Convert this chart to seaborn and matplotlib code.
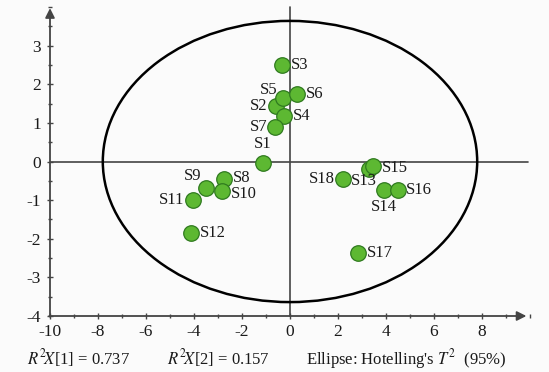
import numpy as np
import pandas as pd
import matplotlib
matplotlib.use("Agg")
import matplotlib.pyplot as plt
from matplotlib.patches import Ellipse
from matplotlib.ticker import MultipleLocator
import seaborn as sns

# ---- data ----
samples = ["S1", "S2", "S3", "S4", "S5", "S6", "S7", "S8", "S9", "S10",
           "S11", "S12", "S13", "S14", "S15", "S16", "S17", "S18"]
t1 = [-1.14, -0.60, -0.35, -0.25, -0.28, 0.28, -0.62, -2.74, -3.51, -2.82,
      -4.03, -4.12, 3.30, 3.93, 3.44, 4.49, 2.83, 2.20]
t2 = [-0.03, 1.43, 2.51, 1.19, 1.65, 1.76, 0.90, -0.45, -0.68, -0.77,
      -1.00, -1.85, -0.19, -0.73, -0.12, -0.73, -2.38, -0.45]
x_ticks = [-10, -8, -6, -4, -2, 0, 2, 4, 6, 8]
y_ticks = [-4, -3, -2, -1, 0, 1, 2, 3]
ellipse_a = 7.8
ellipse_b = 3.64
r2x1 = 0.737
r2x2 = 0.157

# label placement (pixel offsets, alignment)
label_pos = {
    "S1": (0, 11, "center", "bottom"),
    "S2": (-8, 0, "right", "center"),
    "S3": (9, 0, "left", "center"),
    "S4": (9, 0, "left", "center"),
    "S5": (-6, 8, "right", "center"),
    "S6": (9, 0, "left", "center"),
    "S7": (-8, 0, "right", "center"),
    "S8": (9, 1, "left", "center"),
    "S9": (-4, 12, "right", "center"),
    "S10": (9, -3, "left", "center"),
    "S11": (-9, 0, "right", "center"),
    "S12": (9, 0, "left", "center"),
    "S13": (-18, -12, "left", "center"),
    "S14": (0, -9, "center", "top"),
    "S15": (9, -2, "left", "center"),
    "S16": (8, 0, "left", "center"),
    "S17": (9, 0, "left", "center"),
    "S18": (-8, 0, "right", "center"),
}

df = pd.DataFrame({"sample": samples, "t1": t1, "t2": t2})

sns.set_theme(style="white")
plt.rcParams["font.family"] = ["Liberation Serif", "DejaVu Serif"]
plt.rcParams["mathtext.fontset"] = "stix"

W, H = 549, 372
fig = plt.figure(figsize=(W / 100, H / 100), dpi=100)
fig.patch.set_facecolor("#fbfbfb")
ax = fig.add_axes([50 / W, (H - 316) / H, 480 / W, 309 / H])
ax.set_facecolor("#fbfbfb")

ax.set_xlim(-10, 10)
ax.set_ylim(-4, 4)

# reference lines and ellipse
ax.plot([0, 0], [-4, 4.0], color="#444444", lw=1.2, zorder=1, clip_on=False)
ax.plot([-10, 9.9], [0, 0], color="#444444", lw=1.2, zorder=1)
ax.add_patch(Ellipse((0, 0), 2 * ellipse_a, 2 * ellipse_b, fill=False,
                     edgecolor="black", lw=1.8, zorder=2))

sns.scatterplot(data=df, x="t1", y="t2", ax=ax, s=125, color="#5db832",
                edgecolor="#2f7a1f", linewidth=0.9, zorder=3, legend=False)

for s, x, y in zip(samples, t1, t2):
    dx, dy, ha, va = label_pos[s]
    ax.annotate(s, (x, y), xytext=(dx, dy), textcoords="offset pixels",
                ha=ha, va=va, fontsize=12, color="#1a1a1a", zorder=4)

# axes with arrows
for sp in ax.spines.values():
    sp.set_visible(False)
ax.annotate("", xy=(-10, 3.97), xytext=(-10, -4.02),
            arrowprops=dict(arrowstyle="-|>", color="#444444", lw=1.3,
                            mutation_scale=14, shrinkA=0, shrinkB=0),
            annotation_clip=False)
ax.annotate("", xy=(9.85, -4), xytext=(-10.03, -4),
            arrowprops=dict(arrowstyle="-|>", color="#444444", lw=1.3,
                            mutation_scale=14, shrinkA=0, shrinkB=0),
            annotation_clip=False)

ax.set_xticks(x_ticks)
ax.set_yticks(y_ticks)
ax.set_xticklabels([str(v) for v in x_ticks])
ax.set_yticklabels([str(v) for v in y_ticks])
ax.xaxis.set_minor_locator(MultipleLocator(1))
ax.yaxis.set_minor_locator(MultipleLocator(0.5))
ax.tick_params(which="major", axis="both", direction="inout", length=5,
               width=1.0, color="#444444", labelsize=12.5, labelcolor="#1a1a1a",
               bottom=True, left=True)
ax.tick_params(which="minor", axis="both", direction="inout", length=3,
               width=1.0, color="#444444", bottom=True, left=True)
ax.tick_params(axis="x", pad=3)
ax.tick_params(axis="y", pad=4)
ax.set_xlabel("")
ax.set_ylabel("")

# footnote texts
fs = 12
fig.text(27 / W, (H - 364) / H, r"$R^{2}\!X$[1] = " + f"{r2x1:.3f}", fontsize=fs,
         ha="left", va="baseline", color="#1a1a1a")
fig.text(167 / W, (H - 364) / H, r"$R^{2}\!X$[2] = " + f"{r2x2:.3f}", fontsize=fs,
         ha="left", va="baseline", color="#1a1a1a")
fig.text(306 / W, (H - 364) / H, r"Ellipse: Hotelling's $T^2$  (95%)", fontsize=fs,
         ha="left", va="baseline", color="#1a1a1a")

fig.savefig("out.png", dpi=100, facecolor=fig.get_facecolor())
